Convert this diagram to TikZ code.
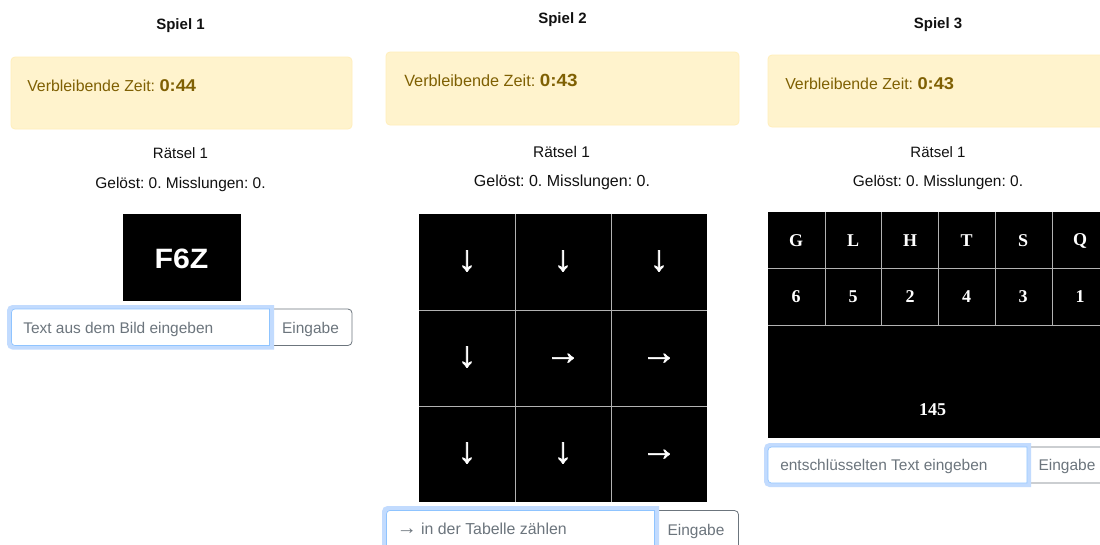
\documentclass[tikz,border=0pt]{standalone}
\usepackage{fontspec}
\usepackage{graphicx}
\setmainfont{Liberation Sans}
\newfontfamily\serifcell{Liberation Serif}
\newfontfamily\arrowfont[FakeBold=1.6]{Liberation Sans}
\frenchspacing
\definecolor{alertbg}{HTML}{FFF3CD}
\definecolor{alertbd}{HTML}{FFEEBA}
\definecolor{alertfg}{HTML}{7F6003}
\definecolor{phgray}{HTML}{6C757D}
\definecolor{ringblue}{HTML}{C2DBFE}
\definecolor{focusbd}{HTML}{8FC4FF}
\definecolor{titlefg}{HTML}{111111}
\newcommand{\fs}[1]{\fontsize{#1}{#1}\selectfont}
\newcommand{\timeval}[2]{{\fs{#1}\bfseries\scalebox{1.07}[1]{#2}}}
\newcommand{\inputfield}[8]{% ring l,t,r,b ; field l,t,r,b
  \fill[ringblue] (#3,#2) [rounded corners=4pt] -- (#1,#2) -- (#1,#4) [sharp corners] -- (#3,#4) -- cycle;
  \filldraw[field] (#7,#6) [rounded corners=2.5pt] -- (#5,#6) -- (#5,#8) [sharp corners] -- (#7,#8) -- cycle;
}
\tikzset{
  x=0.75pt,y=-0.75pt,
  title/.style={font=\fs{11.25}\bfseries,text=titlefg,inner sep=0pt},
  body/.style={font=\fs{11.25},text=titlefg,inner sep=0pt},
  bodywide/.style={font=\fs{11.6},text=titlefg,inner sep=0pt},
  alertbox/.style={fill=alertbg,draw=alertbd,line width=0.6pt,rounded corners=3pt},
  alerttext/.style={font=\fs{11.9},text=alertfg,anchor=base west,inner sep=0pt},
  field/.style={draw=focusbd,fill=white,line width=0.5pt},
  btn/.style={draw=phgray,line width=0.6pt,rounded corners=3pt},
  ph/.style={font=\fs{11.6},text=phgray,anchor=base west,inner sep=0pt},
  btntext/.style={font=\fs{11.6},text=phgray,inner sep=0pt,anchor=base},
  grid/.style={draw=white!70!black,line width=0.75pt},
  arrowcell/.style={font=\arrowfont\fs{27},text=white,inner sep=0pt},
  cell/.style={font=\serifcell\fs{13.5}\bfseries,text=white,inner sep=0pt},
}
\begin{document}
\begin{tikzpicture}
\useasboundingbox (0,0) rectangle (1100,544);
\clip (0,0) rectangle (1100,544);
\fill[white] (0,0) rectangle (1100,544);

% ---- Spiel 1
\node[title] (t1) at (180.5,25.5) {Spiel 1};
\draw[alertbox] (11,57) rectangle (352,129);
\node[alerttext] (a1) at (27,91) {Verbleibende Zeit: \timeval{12.8}{0:44}};
\node[body] (r1) at (180.5,153.5) {Rätsel 1};
\node[bodywide] (g1) at (180.5,184) {Gelöst: 0. Misslungen: 0.};
\fill[black] (122.5,213.5) rectangle (240.5,300.5);
\node[font=\fs{21}\bfseries,text=white,inner sep=0pt] (f1) at (181.5,259) {\scalebox{1.08}[1]{F6Z}};
\draw[btn] (262,309) rectangle (352,345.5);
\inputfield{7}{305}{274}{349.5}{11.5}{309}{269.5}{345.5}
\node[ph] (p1) at (23,333) {Text aus dem Bild eingeben};
\node[btntext] (b1) at (310.5,333) {Eingabe};

% ---- Spiel 2
\node[title] (t2) at (562.5,19.5) {Spiel 2};
\draw[alertbox] (386,52) rectangle (739,125);
\node[alerttext,font=\fs{12.2}] (a2) at (404,86) {Verbleibende Zeit: \timeval{13.2}{0:43}};
\node[body,font=\fs{11.6}] (r2) at (561.5,151.5) {Rätsel 1};
\node[bodywide,font=\fs{12}] (g2) at (562,182.5) {Gelöst: 0. Misslungen: 0.};
\fill[black] (419,214) rectangle (707,502);
\foreach \v in {515,611} \draw[grid] (\v,214) -- (\v,502);
\foreach \v in {310,406} \draw[grid] (419,\v) -- (707,\v);
\node[arrowcell] (c11) at (467,261) {↓};
\node[arrowcell] (c12) at (563,261) {↓};
\node[arrowcell] (c13) at (659,261) {↓};
\node[arrowcell] (c21) at (467,357) {↓};
\node[arrowcell] (c22) at (563,359) {→};
\node[arrowcell] (c23) at (659,359) {→};
\node[arrowcell] (c31) at (467,453) {↓};
\node[arrowcell] (c32) at (563,453) {↓};
\node[arrowcell] (c33) at (659,455) {→};
\draw[btn] (650,510.5) rectangle (738.5,560);
\inputfield{382}{506}{659}{560}{386.5}{510.5}{654.5}{560}
\node[ph,font=\fs{11.9}] (p2) at (396.5,534) {{\fs{15}→} in der Tabelle zählen};
\node[btntext] (b2) at (696,535) {Eingabe};

% ---- Spiel 3
\node[title] (t3) at (938,24.5) {Spiel 3};
\draw[alertbox] (768,55) rectangle (1120,127);
\node[alerttext] (a3) at (785,89) {Verbleibende Zeit: \timeval{12.8}{0:43}};
\node[body] (r3) at (938,152) {Rätsel 1};
\node[bodywide] (g3) at (938,182.5) {Gelöst: 0. Misslungen: 0.};
\fill[black] (768,212) rectangle (1110,438);
\foreach \v in {825,881.5,938.5,995,1052} \draw[grid] (\v,212) -- (\v,325.5);
\foreach \v in {268.5,325.5} \draw[grid] (768,\v) -- (1110,\v);
\foreach \n/\px/\a/\b in {1/796/G/6,2/853/L/5,3/910/H/2,4/966.5/T/4,5/1023/S/3,6/1080/Q/1}{
  \node[cell] (u\n) at (\px,240.5) {\a};
  \node[cell] (l\n) at (\px,297) {\b};
}
\node[cell] (sum) at (932.5,409.5) {145};
\draw[btn] (1020,447) rectangle (1130,483);
\inputfield{764}{443}{1031}{487}{768}{447}{1027}{483}
\node[ph] (p3) at (780,470) {entschlüsselten Text eingeben};
\node[btntext] (b3) at (1067,470) {Eingabe};
\end{tikzpicture}
\end{document}
